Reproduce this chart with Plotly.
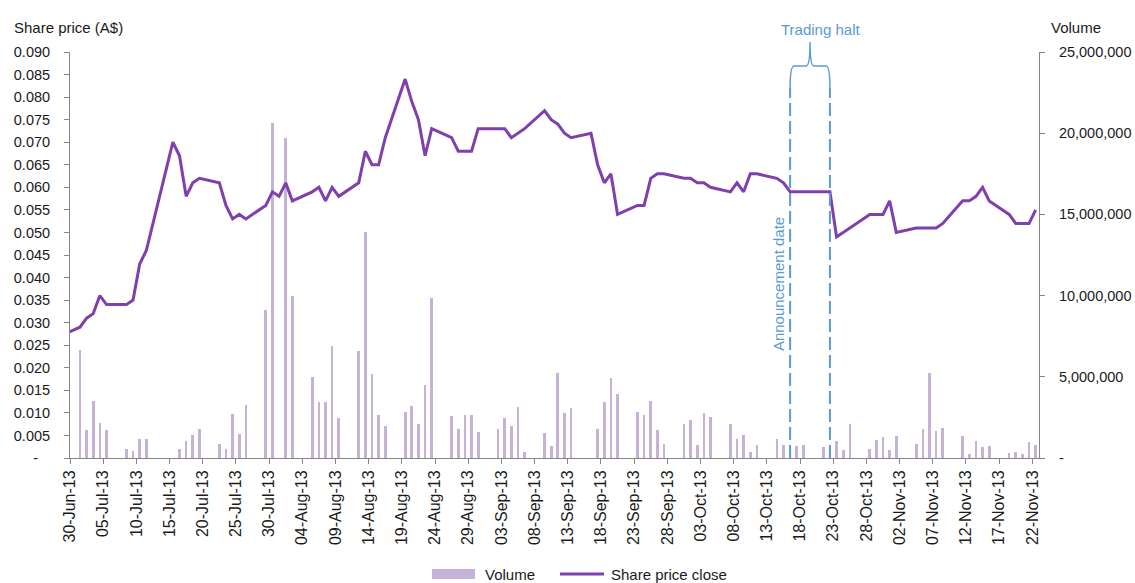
import plotly.graph_objects as go
import pandas as pd

# ---------------- data ----------------
price_dates = [
    "2013-06-28", "2013-07-01", "2013-07-02", "2013-07-03", "2013-07-04", "2013-07-05",
    "2013-07-08", "2013-07-09", "2013-07-10", "2013-07-11", "2013-07-15", "2013-07-16",
    "2013-07-17", "2013-07-18", "2013-07-19", "2013-07-22", "2013-07-23", "2013-07-24",
    "2013-07-25", "2013-07-26", "2013-07-29", "2013-07-30", "2013-07-31", "2013-08-01",
    "2013-08-02", "2013-08-05", "2013-08-06", "2013-08-07", "2013-08-08", "2013-08-09",
    "2013-08-12", "2013-08-13", "2013-08-14", "2013-08-15", "2013-08-16", "2013-08-19",
    "2013-08-20", "2013-08-21", "2013-08-22", "2013-08-23", "2013-08-26", "2013-08-27",
    "2013-08-28", "2013-08-29", "2013-08-30", "2013-09-02", "2013-09-03", "2013-09-04",
    "2013-09-05", "2013-09-06", "2013-09-09", "2013-09-10", "2013-09-11", "2013-09-12",
    "2013-09-13", "2013-09-16", "2013-09-17", "2013-09-18", "2013-09-19", "2013-09-20",
    "2013-09-23", "2013-09-24", "2013-09-25", "2013-09-26", "2013-09-27", "2013-09-30",
    "2013-10-01", "2013-10-02", "2013-10-03", "2013-10-04", "2013-10-07", "2013-10-08",
    "2013-10-09", "2013-10-10", "2013-10-11", "2013-10-14", "2013-10-15", "2013-10-16",
    "2013-10-17", "2013-10-18", "2013-10-21", "2013-10-22", "2013-10-23", "2013-10-28",
    "2013-10-29", "2013-10-30", "2013-10-31", "2013-11-01", "2013-11-04", "2013-11-05",
    "2013-11-06", "2013-11-07", "2013-11-08", "2013-11-11", "2013-11-12", "2013-11-13",
    "2013-11-14", "2013-11-15", "2013-11-18", "2013-11-19", "2013-11-20", "2013-11-21",
    "2013-11-22",
]
price_close = [
    0.027, 0.029, 0.031, 0.032, 0.036, 0.034,
    0.034, 0.035, 0.043, 0.046, 0.070, 0.067,
    0.058, 0.061, 0.062, 0.061, 0.056, 0.053,
    0.054, 0.053, 0.056, 0.059, 0.058, 0.061,
    0.057, 0.059, 0.060, 0.057, 0.060, 0.058,
    0.061, 0.068, 0.065, 0.065, 0.071, 0.084,
    0.079, 0.075, 0.067, 0.073, 0.071, 0.068,
    0.068, 0.068, 0.073, 0.073, 0.073, 0.071,
    0.072, 0.073, 0.077, 0.075, 0.074, 0.072,
    0.071, 0.072, 0.065, 0.061, 0.063, 0.054,
    0.056, 0.056, 0.062, 0.063, 0.063, 0.062,
    0.062, 0.061, 0.061, 0.060, 0.059, 0.061,
    0.059, 0.063, 0.063, 0.062, 0.061, 0.059,
    0.059, 0.059, 0.059, 0.059, 0.049, 0.054,
    0.054, 0.054, 0.057, 0.050, 0.051, 0.051,
    0.051, 0.051, 0.052, 0.057, 0.057, 0.058,
    0.060, 0.057, 0.054, 0.052, 0.052, 0.052,
    0.055,
]

vol_dates = [
    "2013-07-01", "2013-07-02", "2013-07-03", "2013-07-04", "2013-07-05", "2013-07-08",
    "2013-07-09", "2013-07-10", "2013-07-11", "2013-07-16", "2013-07-17", "2013-07-18",
    "2013-07-19", "2013-07-22", "2013-07-23", "2013-07-24", "2013-07-25", "2013-07-26",
    "2013-07-29", "2013-07-30", "2013-08-01", "2013-08-02", "2013-08-05", "2013-08-06",
    "2013-08-07", "2013-08-08", "2013-08-09", "2013-08-12", "2013-08-13", "2013-08-14",
    "2013-08-15", "2013-08-16", "2013-08-19", "2013-08-20", "2013-08-21", "2013-08-22",
    "2013-08-23", "2013-08-26", "2013-08-27", "2013-08-28", "2013-08-29", "2013-08-30",
    "2013-09-02", "2013-09-03", "2013-09-04", "2013-09-05", "2013-09-06", "2013-09-09",
    "2013-09-10", "2013-09-11", "2013-09-12", "2013-09-13", "2013-09-17", "2013-09-18",
    "2013-09-19", "2013-09-20", "2013-09-23", "2013-09-24", "2013-09-25", "2013-09-26",
    "2013-09-27", "2013-09-30", "2013-10-01", "2013-10-02", "2013-10-03", "2013-10-04",
    "2013-10-07", "2013-10-08", "2013-10-09", "2013-10-10", "2013-10-11", "2013-10-14",
    "2013-10-15", "2013-10-16", "2013-10-17", "2013-10-18", "2013-10-21", "2013-10-22",
    "2013-10-23", "2013-10-24", "2013-10-25", "2013-10-28", "2013-10-29", "2013-10-30",
    "2013-10-31", "2013-11-01", "2013-11-04", "2013-11-05", "2013-11-06", "2013-11-07",
    "2013-11-08", "2013-11-11", "2013-11-12", "2013-11-13", "2013-11-14", "2013-11-15",
    "2013-11-18", "2013-11-19", "2013-11-20", "2013-11-21", "2013-11-22",
]
volume = [
    6650000, 1750000, 3500000, 2130000, 1750000, 550000,
    450000, 1170000, 1200000, 530000, 1050000, 1430000,
    1800000, 860000, 540000, 2700000, 1470000, 3260000,
    9100000, 20600000, 19700000, 9980000, 5000000, 3430000,
    3430000, 6900000, 2450000, 6610000, 13900000, 5180000,
    2630000, 1970000, 2850000, 3220000, 2090000, 4490000,
    9830000, 2560000, 1790000, 2630000, 2630000, 1580000,
    1810000, 2480000, 1960000, 3150000, 350000, 1520000,
    740000, 5210000, 2770000, 3100000, 1790000, 3420000,
    4950000, 3940000, 2830000, 2640000, 3520000, 1710000,
    840000, 2080000, 2340000, 800000, 2770000, 2530000,
    2080000, 1150000, 1400000, 360000, 800000, 1160000,
    800000, 500000, 740000, 800000, 700000, 330000,
    1050000, 490000, 2070000, 540000, 1100000, 1270000,
    490000, 1380000, 880000, 1770000, 5250000, 1690000,
    1830000, 1360000, 270000, 1050000, 700000, 770000,
    330000, 370000, 240000, 970000, 800000,
]

price_ticks = [i * 0.005 for i in range(19)]
volume_ticks = [0, 5000000, 10000000, 15000000, 20000000, 25000000]
x_start, x_end = "2013-06-30", "2013-11-23"
halt_start, halt_end = "2013-10-16", "2013-10-22"

# ---------------- styling ----------------
W, H = 1135, 583
ML, MR, MT, MB = 70, 96, 52, 125
PW, PH = W - ML - MR, H - MT - MB
FONT = "Liberation Sans, Arial, sans-serif"
FS = 15
TFS = 14.5
TXT = "#1a1a1a"
AX = "#868686"
BAR = "#c4b3d6"
LINE = "#7f3faf"
BLUE = "#5b9bd5"

half_day = pd.Timedelta(hours=12)
px_x = pd.to_datetime(price_dates) + half_day
vx = pd.to_datetime(vol_dates) + half_day
t0, t1 = pd.Timestamp(x_start), pd.Timestamp(x_end)


def date_paper(d):
    return (pd.Timestamp(d) + half_day - t0) / (t1 - t0)


def px2px(px):  # pixel x -> paper
    return (px - ML) / PW


def py2py(py):  # pixel y -> paper
    return (H - MB - py) / PH


fig = go.Figure()
fig.add_trace(go.Bar(
    x=vx, y=volume, name="Volume", marker=dict(color=BAR, line=dict(width=0)),
    width=0.4 * 86400000, yaxis="y", showlegend=False,
))
fig.add_trace(go.Scatter(
    x=px_x, y=price_close, name="Share price close", mode="lines",
    line=dict(color=LINE, width=3), yaxis="y2", showlegend=False,
))

tick_dates = pd.date_range(x_start, "2013-11-22", freq="5D")

fig.update_layout(
    width=W, height=H, autosize=False,
    margin=dict(l=ML, r=MR, t=MT, b=MB, autoexpand=False),
    paper_bgcolor="white", plot_bgcolor="white",
    showlegend=False, bargap=0,
    xaxis=dict(
        range=[t0, t1], tickvals=list(tick_dates),
        ticktext=[d.strftime("%d-%b-%y") for d in tick_dates],
        tickangle=-90, ticks="outside", ticklen=5, tickcolor=AX, automargin=False,
        showline=True, linecolor=AX, linewidth=1, showgrid=False, zeroline=False,
        tickfont=dict(family=FONT, size=16, color=TXT),
    ),
    yaxis=dict(
        side="right", range=[0, 25000000], tickvals=volume_ticks,
        ticktext=["-"] + [f"{v:,}" for v in volume_ticks[1:]],
        ticks="outside", ticklen=5, tickcolor=AX, showline=True, linecolor=AX,
        showgrid=False, zeroline=False, ticklabelstandoff=11, automargin=False,
        tickfont=dict(family=FONT, size=TFS, color=TXT),
    ),
    yaxis2=dict(
        side="left", overlaying="y", range=[0, 0.09], tickvals=price_ticks,
        ticktext=["-\u00a0\u00a0\u00a0"] + [f"{v:.3f}" for v in price_ticks[1:]],
        ticks="outside", ticklen=5, tickcolor=AX, showline=True, linecolor=AX,
        showgrid=False, zeroline=False, ticklabelstandoff=11, automargin=False,
        tickfont=dict(family=FONT, size=TFS, color=TXT),
    ),
)

# axis titles
fig.add_annotation(text="Share price (A$)", x=px2px(12), y=py2py(27), xref="paper", yref="paper",
                   xanchor="left", yanchor="middle", showarrow=False,
                   font=dict(family=FONT, size=FS, color=TXT))
fig.add_annotation(text="Volume", x=px2px(1049), y=py2py(27), xref="paper", yref="paper",
                   xanchor="left", yanchor="middle", showarrow=False,
                   font=dict(family=FONT, size=FS, color=TXT))

# trading halt markers
for d in (halt_start, halt_end):
    fig.add_shape(type="line", xref="x", yref="paper",
                  x0=pd.Timestamp(d) + half_day, x1=pd.Timestamp(d) + half_day,
                  y0=0, y1=py2py(88),
                  line=dict(color=BLUE, width=2, dash="13px,5px"))

xl, xr = date_paper(halt_start), date_paper(halt_end)
xm = (xl + xr) / 2
yb, yh, yt = py2py(88), py2py(66), py2py(42)
dx = 4 / PW
brace = (f"M {xl},{yb} Q {xl},{yh} {xl+dx},{yh} L {xm-dx},{yh} "
         f"Q {xm},{yh} {xm},{yt} Q {xm},{yh} {xm+dx},{yh} L {xr-dx},{yh} "
         f"Q {xr},{yh} {xr},{yb}")
fig.add_shape(type="path", xref="paper", yref="paper", path=brace,
              line=dict(color=BLUE, width=1.5))
fig.add_annotation(text="Trading halt", x=xm + 10 / PW, y=py2py(30), xref="paper", yref="paper",
                   xanchor="center", yanchor="middle", showarrow=False,
                   font=dict(family=FONT, size=FS, color=BLUE))
fig.add_annotation(text="Announcement date", x=pd.Timestamp(halt_start) + half_day,
                   y=py2py(284), xref="x", yref="paper", xshift=-12, textangle=-90,
                   showarrow=False, font=dict(family=FONT, size=15, color=BLUE))

# legend (drawn manually, centred under the chart)
ly = py2py(574)
fig.add_shape(type="rect", xref="paper", yref="paper", x0=px2px(432), x1=px2px(475),
              y0=py2py(569), y1=py2py(579), fillcolor=BAR, line=dict(width=0))
fig.add_annotation(text="Volume", x=px2px(483), y=ly, xref="paper", yref="paper",
                   xanchor="left", yanchor="middle", showarrow=False,
                   font=dict(family=FONT, size=FS, color=TXT))
fig.add_shape(type="line", xref="paper", yref="paper", x0=px2px(560), x1=px2px(604),
              y0=ly, y1=ly, line=dict(color=LINE, width=3))
fig.add_annotation(text="Share price close", x=px2px(609), y=ly, xref="paper", yref="paper",
                   xanchor="left", yanchor="middle", showarrow=False,
                   font=dict(family=FONT, size=FS, color=TXT))

fig.write_html("out.html", config={"displayModeBar": False},
               post_script="document.body.style.margin='0';")
